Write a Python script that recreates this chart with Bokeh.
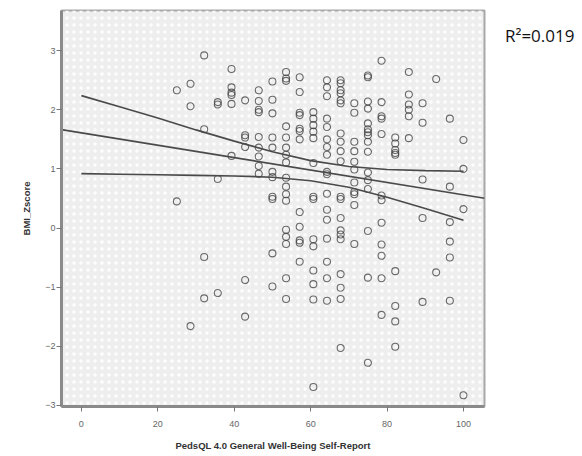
from bokeh.plotting import figure
from bokeh.models import Range1d, BoxAnnotation, FixedTicker, Legend, LegendItem
from bokeh.embed import file_html
from bokeh.resources import INLINE

# ---- data ----
col_x = [25.00, 28.57, 32.14, 35.71, 39.29, 42.86, 46.43, 50.00, 53.57, 57.14,
         60.71, 64.29, 67.86, 71.43, 75.00, 78.57, 82.14, 85.71, 89.29, 92.86,
         96.43, 100.00]
col_y = [
    [2.33, 0.45],
    [2.44, 2.06, -1.66],
    [2.92, 1.67, -0.49, -1.19],
    [2.13, 2.09, 0.83, -1.10],
    [2.69, 2.38, 2.29, 2.25, 2.10, 1.22],
    [2.16, 1.57, 1.53, 1.37, -0.88, -1.50],
    [2.33, 2.15, 2.00, 1.96, 1.54, 1.36, 1.21, 1.05, 0.92],
    [2.48, 2.17, 1.94, 1.53, 1.36, 0.95, 0.86, 0.53, 0.49, -0.43, -0.99],
    [2.64, 2.53, 2.49, 1.72, 1.53, 1.36, 1.24, 1.11, 0.85, 0.70, 0.57, 0.46,
     -0.03, -0.15, -0.27, -0.85, -1.20],
    [2.55, 2.30, 1.95, 1.91, 1.68, 1.64, 1.50, 0.27, 0.02, -0.21, -0.25, -0.57],
    [1.96, 1.85, 1.74, 1.63, 1.52, 1.10, 0.53, 0.49, -0.19, -0.31, -0.72, -0.95,
     -1.21, -2.69],
    [2.50, 2.38, 2.23, 1.85, 1.71, 1.50, 1.37, 1.24, 0.95, 0.91, 0.58, 0.31, 0.14,
     -0.18, -0.57, -0.85, -1.23],
    [2.50, 2.45, 2.33, 2.28, 2.16, 2.11, 1.60, 1.46, 1.30, 1.13, 0.53, 0.49, 0.17,
     -0.04, -0.11, -0.19, -0.78, -1.01, -1.20, -2.03],
    [2.11, 1.95, 1.46, 1.30, 1.12, 0.99, 0.77, 0.61, 0.57, 0.39, -0.27],
    [2.58, 2.55, 2.14, 2.02, 1.77, 1.67, 1.62, 1.57, 1.46, 1.29, 0.94, 0.81, 0.66,
     -0.05, -0.84, -2.28],
    [2.83, 2.13, 1.89, 1.85, 1.59, 0.55, 0.47, 0.09, -0.28, -0.47, -0.85, -1.47],
    [1.53, 1.43, 1.32, 1.27, 1.24, -0.73, -1.32, -1.58, -2.01],
    [2.64, 2.26, 2.09, 2.00, 1.89, 1.52],
    [2.11, 1.78, 0.82, 0.17, -1.25],
    [2.52, -0.75],
    [1.85, 0.70, 0.10, -0.23, -0.50, -1.23],
    [1.49, 1.00, 0.32, -2.83],
]

fit_intercept = 1.61
fit_slope = -0.01048

band_x = [0, 10, 20, 30, 40, 50, 60, 70, 80, 90, 100]
band_upper = [2.24, 2.05, 1.86, 1.66, 1.47, 1.29, 1.14, 1.04, 0.99, 0.97, 0.96]
band_lower = [0.92, 0.91, 0.90, 0.89, 0.88, 0.86, 0.80, 0.69, 0.52, 0.33, 0.13]

x_ticks = [0, 20, 40, 60, 80, 100]
y_ticks = [-3, -2, -1, 0, 1, 2, 3]
r2_text = "R²=0.019"
x_title = "PedsQL 4.0 General Well-Being Self-Report"
y_title = "BMI_Zscore"

# ---- build point lists ----
px, py = [], []
for xv, ys in zip(col_x, col_y):
    for yv in ys:
        px.append(xv)
        py.append(yv)

x0, x1 = -5.2, 105.5
y0, y1 = -3.02, 3.68

p = figure(output_backend="svg", toolbar_location=None,
           x_range=Range1d(x0, x1), y_range=Range1d(y0, y1),
           frame_width=423, frame_height=396,
           min_border_left=61, min_border_right=97,
           min_border_top=10, min_border_bottom=49)
p.background_fill_color = "#eeeeee"
p.border_fill_color = "white"
p.grid.visible = False
p.outline_line_color = "#a8a8a8"
p.outline_line_width = 2

p.add_layout(BoxAnnotation(fill_alpha=0, hatch_pattern="dot", hatch_color="white",
                           hatch_scale=7, hatch_alpha=0.9, line_alpha=0,
                           level="underlay"))

for ax in (p.xaxis[0], p.yaxis[0]):
    ax.axis_line_color = "#8a8a8a"
    ax.axis_line_width = 3
    ax.major_tick_line_color = "#777777"
    ax.major_tick_out = 5
    ax.major_tick_in = 0
    ax.minor_tick_line_color = None
    ax.major_label_text_font = "Liberation Sans"
    ax.major_label_text_font_size = "9px"
    ax.major_label_text_color = "#666666"
    ax.axis_label_text_font = "Liberation Sans"
    ax.axis_label_text_font_style = "bold"
    ax.axis_label_text_font_size = "9.5px"
    ax.axis_label_text_color = "#333333"

p.xaxis.ticker = FixedTicker(ticks=x_ticks)
p.yaxis.ticker = FixedTicker(ticks=y_ticks)
p.xaxis.axis_label = x_title
p.yaxis.axis_label = y_title
p.xaxis.major_label_standoff = 9
p.xaxis.axis_label_standoff = 10
p.yaxis.major_label_standoff = 1
p.yaxis.axis_label_standoff = 10

# scatter
p.scatter(px, py, marker="circle", size=7, fill_color=None,
          line_color="#3c3c3c", line_alpha=0.75, line_width=1.1)

# fit line across the frame
p.line([x0, x1], [fit_intercept + fit_slope * x0, fit_intercept + fit_slope * x1],
       line_color="#4a4a4a", line_width=1.6)
# 95% confidence band of the mean
p.line(band_x, band_upper, line_color="#4a4a4a", line_width=1.6)
p.line(band_x, band_lower, line_color="#4a4a4a", line_width=1.6)

# R squared note, outside the frame on the right
dummy = p.scatter([], [], alpha=0)
leg = Legend(items=[LegendItem(label=r2_text, renderers=[dummy])],
             location="top_left", margin=14, padding=0, glyph_width=0,
             glyph_height=20, label_standoff=7, label_text_font="Open Sans",
             label_text_font_size="17px", label_text_color="#111111",
             border_line_alpha=0, background_fill_alpha=0)
p.add_layout(leg, "right")

open("out.html", "w").write(file_html(p, INLINE))
